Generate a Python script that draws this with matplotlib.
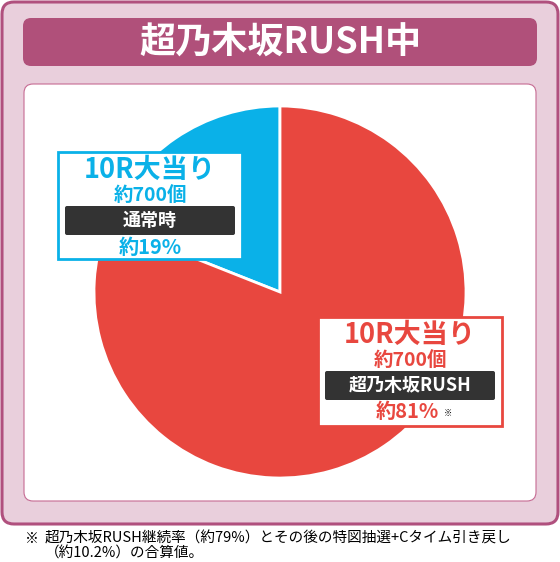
import numpy as np
import matplotlib.pyplot as plt
from matplotlib.patches import FancyBboxPatch, Rectangle

plt.rcParams['font.family'] = ['Noto Sans CJK JP', 'DejaVu Sans']

# data
title = '超乃木坂RUSH中'
labels = ['通常時', '超乃木坂RUSH']
shares = [19, 81]
payout = ['約700個', '約700個']
rounds = ['10R大当り', '10R大当り']
colors = ['#0ab1e8', '#e8473f']
note_lines = ['超乃木坂RUSH継続率（約79%）とその後の特図抽選+Cタイム引き戻し',
              '（約10.2%）の合算値。']

W, H = 560, 562
fig = plt.figure(figsize=(W / 100, H / 100), dpi=100)

bg = fig.add_axes([0, 0, 1, 1])
bg.set_xlim(0, W)
bg.set_ylim(H, 0)
bg.axis('off')

def rbox(ax, x0, y0, x1, y1, r, fc, ec='none', lw=0, z=1):
    p = FancyBboxPatch((x0 + r, y0 + r), x1 - x0 - 2 * r, y1 - y0 - 2 * r,
                       boxstyle='round,pad=%g' % r, fc=fc, ec=ec, lw=lw, zorder=z)
    ax.add_patch(p)

# frame, banner, white panel
rbox(bg, 2, 2, 558, 524, 12, '#e9cfdc', '#b0507e', 2.2)
rbox(bg, 23, 18, 537, 66, 8, '#b0507a', z=2)
bg.text(280, 43, title, color='white', fontsize=26, fontweight='bold',
        ha='center', va='center', zorder=3)
rbox(bg, 24, 84, 536, 501, 9, 'white', '#c66b93', 0.8, z=2)

# footnote
bg.text(25, 539, '※', fontsize=10, ha='left', va='center')
for i, line in enumerate(note_lines):
    bg.text(45, 539 + i * 14.5, line, fontsize=10.5, ha='left', va='center')

# pie
cx, cy, r = 280, 292, 186
pie_ax = fig.add_axes([(cx - r) / W, (H - cy - r) / H, 2 * r / W, 2 * r / H])
pie_ax.pie(shares, colors=colors, startangle=90, counterclock=True,
           wedgeprops=dict(edgecolor='white', linewidth=2))
pie_ax.set_xlim(-1, 1)
pie_ax.set_ylim(-1, 1)
pie_ax.set_aspect('equal')
pie_ax.axis('off')

# label boxes on top
top = fig.add_axes([0, 0, 1, 1], zorder=5)
top.set_xlim(0, W)
top.set_ylim(H, 0)
top.axis('off')
top.patch.set_alpha(0)

boxes = [(58, 152, 242, 259), (318, 317, 502, 426)]
for i, (x0, y0, x1, y1) in enumerate(boxes):
    c = colors[i]
    top.add_patch(Rectangle((x0, y0), x1 - x0, y1 - y0, fc='white', ec=c, lw=2))
    xc = (x0 + x1) / 2
    top.text(xc, y0 + 18, rounds[i], color=c, fontsize=19.5, fontweight='bold',
             ha='center', va='center')
    top.text(xc, y0 + 43, payout[i], color=c, fontsize=14, fontweight='bold',
             ha='center', va='center')
    rbox(top, x0 + 7, y0 + 54, x1 - 7, y0 + 83, 2, '#333333', z=3)
    top.text(xc, y0 + 68.5, labels[i], color='white', fontsize=13, fontweight='bold',
             ha='center', va='center', zorder=4)
    top.text(xc - 3 if i else xc, y0 + 95, '約%d%%' % shares[i], color=c, fontsize=14.5,
             fontweight='bold', ha='center', va='center')

top.text(448, 413, '※', fontsize=6, ha='center', va='center')

fig.savefig('out.png', dpi=100)
